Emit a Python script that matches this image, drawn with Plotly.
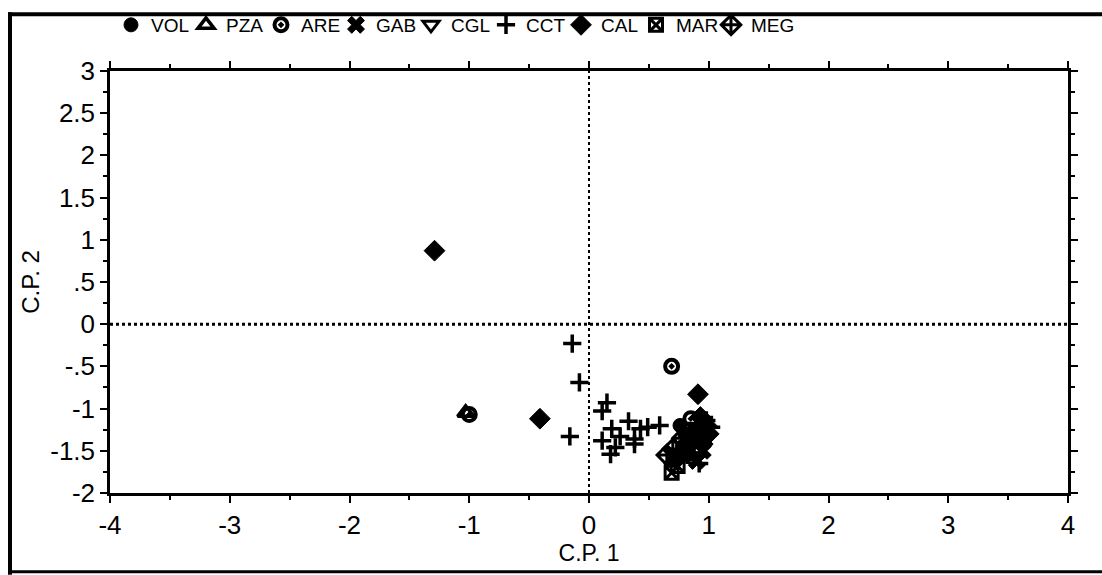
import plotly.graph_objects as go

series_names = ["VOL", "PZA", "ARE", "GAB", "CGL", "CCT", "CAL", "MAR", "MEG"]

vol_x = [0.80, 0.85, 0.78, 0.88, 0.82, 0.92, 0.76]
vol_y = [-1.30, -1.40, -1.45, -1.25, -1.55, -1.35, -1.20]
pza_x = [-1.03, 0.70]
pza_y = [-1.05, -1.62]
are_x = [-1.00, 0.69, 0.85, 0.74]
are_y = [-1.07, -0.50, -1.12, -1.58]
gab_x = [0.90, 0.95, 0.88, 0.84]
gab_y = [-1.62, -1.50, -1.35, -1.48]
cgl_x = [0.72, 0.80, 0.86]
cgl_y = [-1.55, -1.52, -1.60]
cct_x = [-0.14, -0.08, -0.16, 0.15, 0.11, 0.33, 0.19, 0.26, 0.11, 0.22, 0.18,
         0.43, 0.49, 0.59, 0.38, 0.38, 0.76, 0.82, 0.98, 1.02, 0.92]
cct_y = [-0.23, -0.69, -1.33, -0.93, -1.03, -1.15, -1.24, -1.33, -1.38, -1.46, -1.54,
         -1.24, -1.22, -1.20, -1.36, -1.42, -1.50, -1.55, -1.14, -1.22, -1.65]
cal_x = [-1.29, -0.41, 0.91, 0.98, 1.00, 0.95, 0.93]
cal_y = [0.87, -1.12, -0.83, -1.20, -1.30, -1.42, -1.10]
mar_x = [0.69, 0.74, 0.90, 0.97, 0.82]
mar_y = [-1.76, -1.68, -1.45, -1.18, -1.25]
meg_x = [0.65, 0.78, 0.70]
meg_y = [-1.55, -1.35, -1.48]

y_tickvals = [3, 2.5, 2, 1.5, 1, 0.5, 0, -0.5, -1, -1.5, -2]
y_ticktext = ["3", "2.5", "2", "1.5", "1", ".5", "0", "-.5", "-1", "-1.5", "-2"]
x_tickvals = [-4, -3, -2, -1, 0, 1, 2, 3, 4]
x_ticktext = ["-4", "-3", "-2", "-1", "0", "1", "2", "3", "4"]

data = [
    (vol_x, vol_y, "circle", 14, 1),
    (pza_x, pza_y, "triangle-up-open", 14, 3.5),
    (are_x, are_y, "circle-open-dot", 13, 4),
    (gab_x, gab_y, "x", 15, 1),
    (cgl_x, cgl_y, "triangle-down-open", 14, 3),
    (cct_x, cct_y, "cross-thin-open", 13, 3.5),
    (cal_x, cal_y, "diamond", 16, 1),
    (mar_x, mar_y, "square-x-open", 13, 3),
    (meg_x, meg_y, "diamond-cross-open", 15, 3),
]

fig = go.Figure()
for name, (xs, ys, sym, size, lw) in zip(series_names, data):
    fig.add_trace(go.Scatter(
        x=xs, y=ys, mode="markers", name=name,
        marker=dict(symbol=sym, size=size, color="black",
                    line=dict(color="black", width=lw)),
    ))

# invisible spacer entry so the last legend label is not clipped
fig.add_trace(go.Scatter(x=[None], y=[None], mode="markers", name=" ",
                         marker=dict(color="rgba(0,0,0,0)", size=1),
                         hoverinfo="skip"))

font_family = "Liberation Sans, Arial, sans-serif"

fig.update_layout(
    width=1102, height=575,
    margin=dict(l=110, r=34, t=69, b=82),
    paper_bgcolor="white", plot_bgcolor="white",
    font=dict(family=font_family, size=22, color="black"),
    showlegend=True,
    legend=dict(orientation="h", x=111 / 1102, y=1 - 25 / 575, xref="container", yref="container",
                xanchor="left", yanchor="middle",
                font=dict(size=19, family=font_family),
                itemwidth=30, entrywidth=30, tracegroupgap=0,
                bgcolor="rgba(0,0,0,0)"),
    xaxis=dict(range=[-4, 4], tickvals=x_tickvals, ticktext=x_ticktext,
               showgrid=False, zeroline=False, showline=True, linecolor="black", linewidth=2.5,
               mirror="allticks", ticks="outside", ticklen=7, tickwidth=2, tickcolor="black",
               minor=dict(dtick=0.5, ticks="outside", ticklen=4, tickwidth=2, tickcolor="black"),
               tickfont=dict(size=26),
               title=dict(text="C.P. 1", font=dict(size=23), standoff=0)),
    yaxis=dict(range=[-2, 3], tickvals=y_tickvals, ticktext=y_ticktext,
               showgrid=False, zeroline=False, showline=True, linecolor="black", linewidth=2.5,
               mirror="allticks", ticks="outside", ticklen=7, tickwidth=2, tickcolor="black",
               minor=dict(dtick=0.25, ticks="outside", ticklen=4, tickwidth=2, tickcolor="black"),
               tickfont=dict(size=26),
               title=dict(text="C.P. 2", font=dict(size=24), standoff=4)),
)

# zero reference lines
fig.add_shape(type="line", xref="x", yref="y", x0=0, x1=0, y0=-2, y1=3,
              line=dict(color="black", width=2, dash="dot"), layer="below")
fig.add_shape(type="line", xref="x", yref="y", x0=-4, x1=4, y0=0, y1=0,
              line=dict(color="black", width=3, dash="dot"), layer="below")

# outer frame (top, left, bottom)
fig.add_shape(type="line", xref="paper", yref="paper",
              x0=(8 - 110) / 958, x1=(1102 - 110) / 958, y0=(493 - 12) / 424, y1=(493 - 12) / 424,
              line=dict(color="black", width=4))
fig.add_shape(type="line", xref="paper", yref="paper",
              x0=(10 - 110) / 958, x1=(10 - 110) / 958, y0=(493 - 10) / 424, y1=(493 - 575) / 424,
              line=dict(color="black", width=4))
fig.add_shape(type="line", xref="paper", yref="paper",
              x0=(8 - 110) / 958, x1=(1102 - 110) / 958, y0=(493 - 572) / 424, y1=(493 - 572) / 424,
              line=dict(color="black", width=3))

fig.write_html("out.html")
